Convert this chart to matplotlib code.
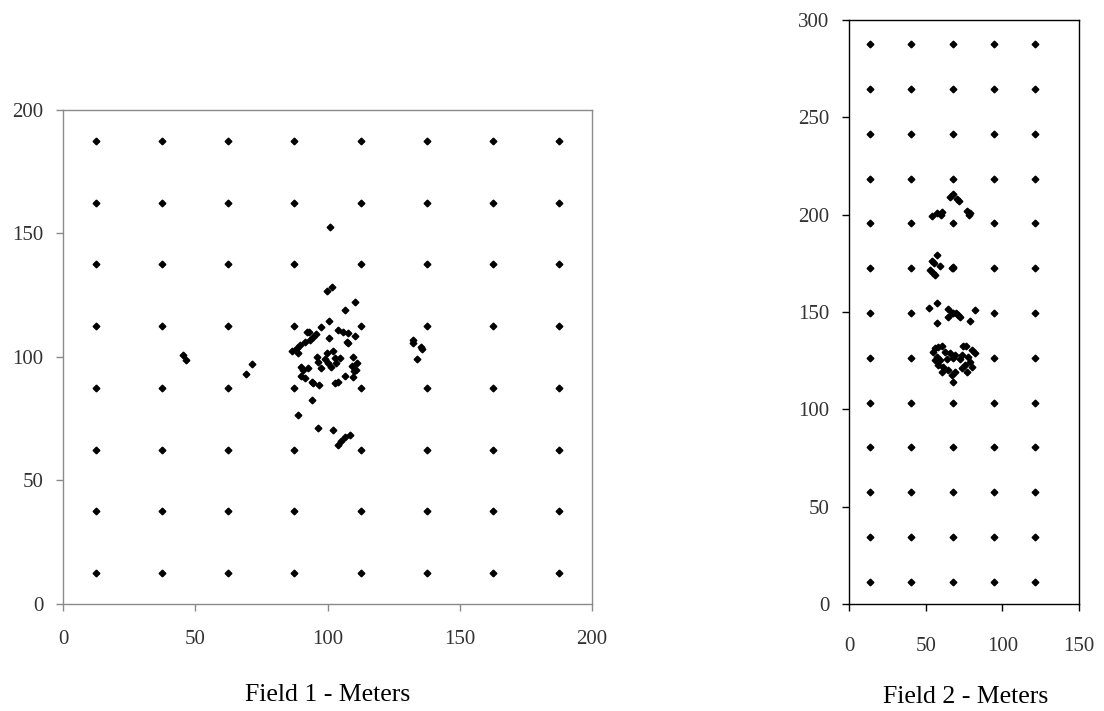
import matplotlib.pyplot as plt

plt.rcParams['font.family'] = ['Liberation Serif', 'DejaVu Serif']

# Field 1: regular sampling grid plus extra points
field1_grid_x = [12.5, 37.5, 62.5, 87.5, 112.5, 137.5, 162.5, 187.5]
field1_grid_y = [12.5, 37.5, 62.5, 87.5, 112.5, 137.5, 162.5, 187.5]
field1_extra_x = [99.7, 101.8, 110.4, 106.5, 100.5, 97.4, 110.4, 92.1, 92.9, 95.7,
                  94.6, 93.4, 91.5, 89.6, 88.4, 86.7, 89.0, 104.1, 106.0, 107.9,
                  107.3, 107.9, 100.5, 102.0, 99.7, 95.9, 96.5, 99.1, 100.3, 102.8,
                  104.7, 103.2, 101.3, 97.4, 92.7, 89.9, 90.6, 89.9, 91.5, 94.0,
                  94.5, 96.7, 102.8, 104.1, 106.6, 109.8, 109.5, 111.0, 109.1, 110.8,
                  110.2, 94.3, 89.0, 96.5, 102.0, 106.6, 108.5, 105.1, 104.1,
                  71.3, 69.2, 132.2, 132.4, 135.2, 135.6, 133.7, 45.4, 46.5, 100.9]
field1_extra_y = [126.6, 128.3, 122.1, 119.0, 114.6, 112.3, 108.5, 110.1, 110.1, 109.3,
                  108.2, 106.9, 106.2, 104.9, 103.5, 102.4, 101.8, 110.9, 110.3, 109.6,
                  106.2, 105.8, 107.5, 102.6, 101.8, 99.9, 98.1, 99.1, 97.5, 99.5,
                  99.5, 97.5, 96.1, 95.4, 95.4, 96.1, 94.7, 92.3, 91.6, 90.0,
                  89.3, 88.5, 89.3, 90.0, 92.3, 91.7, 100.1, 97.7, 96.4, 94.7,
                  94.2, 82.6, 76.5, 71.3, 70.4, 67.7, 68.4, 65.8, 64.4,
                  97.0, 93.2, 106.9, 105.5, 103.9, 103.2, 99.3, 100.8, 98.8, 152.6]

# Field 2: regular sampling grid plus extra points
field2_grid_x = [13.5, 40.5, 67.5, 94.5, 121.5]
field2_grid_y = [11.5, 34.5, 57.5, 80.5, 103.5, 126.5, 149.5, 172.5, 195.5,
                 218.5, 241.5, 264.5, 287.5]
field2_extra_x = [65.9, 68.0, 70.6, 71.5, 53.9, 57.2, 60.5, 60.3, 77.2, 78.9, 78.5,
                  57.6, 53.9, 55.4, 59.4, 52.8, 55.0, 56.1, 67.0, 67.5,
                  52.2, 57.6, 64.4, 67.0, 69.8, 71.3, 64.8, 72.2, 82.2, 78.9, 57.6,
                  56.1, 58.2, 60.5, 55.0, 62.6, 65.9, 69.1, 74.2, 76.3, 80.0, 82.2,
                  73.5, 57.2, 59.4, 63.7, 72.4, 77.8, 78.9, 58.3, 61.5, 75.7, 80.0,
                  60.5, 64.8, 69.1, 73.5, 76.8, 67.0, 67.6, 56.1]
field2_extra_y = [209.2, 210.6, 207.9, 207.2, 199.4, 200.7, 201.2, 199.9, 201.9, 200.7, 200.0,
                  179.3, 176.3, 175.0, 173.6, 171.5, 170.2, 169.0, 172.4, 172.9,
                  151.9, 154.8, 151.4, 149.3, 149.6, 148.4, 147.6, 147.6, 151.0, 145.5, 144.2,
                  131.3, 132.2, 132.7, 129.5, 129.6, 128.8, 127.9, 132.5, 132.7, 130.5, 128.8,
                  127.9, 127.0, 125.3, 126.1, 126.1, 127.0, 124.4, 122.8, 121.9, 122.8, 121.9,
                  119.3, 120.2, 119.3, 121.0, 119.3, 117.6, 114.2, 125.3]


def grid_points(xs, ys):
    gx, gy = [], []
    for y in ys:
        for x in xs:
            gx.append(x)
            gy.append(y)
    return gx, gy


def style_axes(ax, spine_color, label_color):
    for s in ax.spines.values():
        s.set_color(spine_color)
        s.set_linewidth(1.0)
    ax.tick_params(direction='out', length=5, width=1.0, color=spine_color,
                   labelsize=15, labelcolor=label_color)
    ax.tick_params(axis='x', pad=14)
    ax.tick_params(axis='y', pad=9)


fig = plt.figure(figsize=(11.04, 7.11), dpi=100)

ax1 = fig.add_axes([0.0571, 0.1505, 0.4791, 0.6948])
gx, gy = grid_points(field1_grid_x, field1_grid_y)
ax1.plot(gx, gy, 'D', color='black', markersize=3.4, linestyle='none')
ax1.plot(field1_extra_x, field1_extra_y, 'D', color='black', markersize=3.4, linestyle='none')
ax1.set_xlim(0, 200)
ax1.set_ylim(0, 200)
ax1.set_xticks([0, 50, 100, 150, 200])
ax1.set_yticks([0, 50, 100, 150, 200])
style_axes(ax1, '#8a8a8a', '#333333')
fig.text(328 / 1104, 1 - 695 / 711, 'Field 1 - Meters', fontsize=18.5,
         ha='center', va='center', color='black')

ax2 = fig.add_axes([0.769, 0.1505, 0.2084, 0.8214])
gx, gy = grid_points(field2_grid_x, field2_grid_y)
ax2.plot(gx, gy, 'D', color='black', markersize=3.4, linestyle='none')
ax2.plot(field2_extra_x, field2_extra_y, 'D', color='black', markersize=3.4, linestyle='none')
ax2.set_xlim(0, 150)
ax2.set_ylim(0, 300)
ax2.set_xticks([0, 50, 100, 150])
ax2.set_yticks([0, 50, 100, 150, 200, 250, 300])
style_axes(ax2, 'black', '#333333')
ax2.tick_params(axis='x', pad=19)
fig.text(966 / 1104, 1 - 697 / 711, 'Field 2 - Meters', fontsize=18.5,
         ha='center', va='center', color='black')

fig.savefig('out.png', dpi=100)
